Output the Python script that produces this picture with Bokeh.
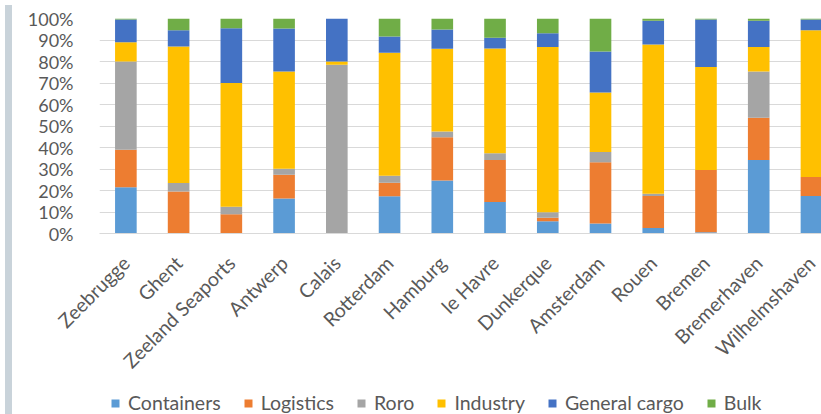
import math

from bokeh.embed import file_html
from bokeh.layouts import column, row
from bokeh.models import (ColumnDataSource, Div, FixedTicker, Legend,
                          LegendItem, PrintfTickFormatter, Range1d)
from bokeh.plotting import figure
from bokeh.resources import INLINE

# Port activity shares (% of each port's total), stacked to 100 %
ports = ["Zeebrugge", "Ghent", "Zeeland Seaports", "Antwerp", "Calais",
         "Rotterdam", "Hamburg", "le Havre", "Dunkerque", "Amsterdam",
         "Rouen", "Bremen", "Bremerhaven", "Wilhelmshaven"]

containers = [21.5, 0.0, 0.0, 16.3, 0.0, 17.3, 24.7, 14.7, 5.7, 4.7, 2.6, 0.6, 34.2, 17.4]
logistics = [17.5, 19.5, 9.0, 11.0, 0.0, 6.3, 20.1, 19.5, 1.6, 28.4, 14.8, 28.9, 19.6, 8.9]
roro = [41.0, 4.0, 3.5, 2.8, 78.5, 3.3, 2.6, 3.1, 2.6, 4.8, 1.1, 0.0, 21.5, 0.0]
industry = [9.0, 63.5, 57.5, 45.3, 1.5, 57.2, 38.5, 48.8, 76.9, 27.7, 69.4, 48.0, 11.5, 68.2]
general_cargo = [10.5, 7.5, 25.5, 20.0, 20.0, 7.5, 9.0, 4.9, 6.3, 19.1, 11.0, 22.0, 12.1, 5.0]
bulk = [0.5, 5.5, 4.5, 4.6, 0.0, 8.4, 5.1, 9.0, 6.9, 15.3, 1.1, 0.5, 1.1, 0.5]

series_labels = ["Containers", "Logistics", "Roro", "Industry", "General cargo", "Bulk"]
series_keys = ["containers", "logistics", "roro", "industry", "general_cargo", "bulk"]
series_colors = ["#5B9BD5", "#ED7D31", "#A5A5A5", "#FFC000", "#4472C4", "#70AD47"]

y_ticks = [0, 10, 20, 30, 40, 50, 60, 70, 80, 90, 100]

FONT = "Lato"
TEXT_COLOR = "#595959"
GRID_COLOR = "#D9D9D9"

x_pos = list(range(len(ports)))
source = ColumnDataSource(dict(
    x=x_pos,
    containers=containers,
    logistics=logistics,
    roro=roro,
    industry=industry,
    general_cargo=general_cargo,
    bulk=bulk,
))

# ---- main chart -----------------------------------------------------------
p = figure(
    width=814, height=384,
    x_range=Range1d(-0.5, len(ports) - 0.62),
    y_range=Range1d(0, 100),
    output_backend="svg", toolbar_location=None,
    min_border_left=82, min_border_right=0,
    min_border_top=18, min_border_bottom=151,
)
p.outline_line_color = None
p.background_fill_color = "white"
p.border_fill_color = "white"

p.vbar_stack(
    series_keys, x="x", width=0.41, source=source,
    fill_color=series_colors, line_color=None,
)

# x axis: port names, rotated
p.xaxis.ticker = FixedTicker(ticks=x_pos)
p.xaxis.major_label_overrides = {i: name for i, name in enumerate(ports)}
p.xaxis.major_label_orientation = math.pi / 4
p.xaxis.major_label_text_font = FONT
p.xaxis.major_label_text_font_size = "19.5px"
p.xaxis.major_label_text_color = TEXT_COLOR
p.xaxis.major_label_text_align = "right"
p.xaxis.major_label_text_baseline = "top"
p.xaxis.major_label_standoff = 20
p.xaxis.major_tick_line_color = None
p.xaxis.minor_tick_line_color = None
p.xaxis.axis_line_color = GRID_COLOR
p.xaxis.axis_line_width = 1
p.xgrid.grid_line_color = None

# y axis: percentages
p.yaxis.ticker = FixedTicker(ticks=y_ticks)
p.yaxis.formatter = PrintfTickFormatter(format="%d%%")
p.yaxis.major_label_text_font = FONT
p.yaxis.major_label_text_font_size = "18px"
p.yaxis.major_label_text_color = TEXT_COLOR
p.yaxis.major_label_standoff = 20
p.yaxis.major_tick_line_color = None
p.yaxis.minor_tick_line_color = None
p.yaxis.axis_line_color = None
p.ygrid.ticker = FixedTicker(ticks=y_ticks)
p.ygrid.grid_line_color = GRID_COLOR
p.ygrid.grid_line_width = 1

# ---- legend strip under the chart ----------------------------------------
# Swatch bars have zero width and sit above the strip's y range, so nothing
# of them shows; they only lend their colours to the legend.
lg = figure(
    width=814, height=30,
    x_range=Range1d(-0.5, len(ports) - 0.5), y_range=Range1d(-2, -1),
    output_backend="svg", toolbar_location=None,
    x_axis_location=None, y_axis_location=None,
    min_border_left=0, min_border_right=0,
    min_border_top=0, min_border_bottom=0,
)
lg.outline_line_color = None
lg.xgrid.grid_line_color = None
lg.ygrid.grid_line_color = None

swatches = [
    lg.vbar(x="x", top=key, width=0, source=source, fill_color=c, line_color=None)
    for key, c in zip(series_keys, series_colors)
]

legend = Legend(
    items=[LegendItem(label=lab, renderers=[r]) for lab, r in zip(series_labels, swatches)],
    orientation="horizontal",
    location=(11, 0),
    glyph_width=10, glyph_height=10,
    label_standoff=8, spacing=22,
    padding=0, margin=0,
    border_line_color=None,
    background_fill_alpha=0,
    label_text_font=FONT,
    label_text_font_size="19.5px",
    label_text_color=TEXT_COLOR,
)
lg.add_layout(legend, "center")

side_strip = Div(width=7, height=414, styles={"background-color": "#C9D3DA"})

layout = row(side_strip, column(p, lg, spacing=0), spacing=0)

with open("out.html", "w") as f:
    f.write(file_html(layout, INLINE))
